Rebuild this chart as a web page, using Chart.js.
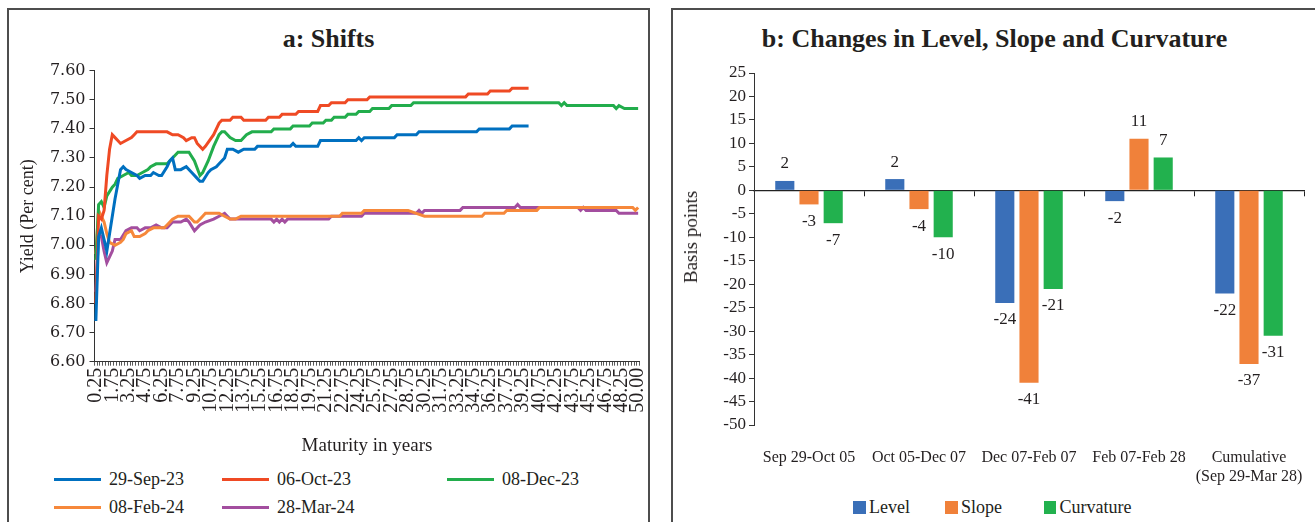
<!DOCTYPE html>
<html>
<head>
<meta charset="utf-8">
<script src="https://cdn.jsdelivr.net/npm/chart.js@4.4.1/dist/chart.umd.min.js"></script>
<style>
  body { margin: 0; width: 1315px; height: 522px; overflow: hidden; background: #fff; position: relative;
         font-family: 'Liberation Serif', serif; color: #231f20; }
  .panel { position: absolute; border: 2px solid #4d4d4d; box-sizing: border-box; }
  .title { position: absolute; font-weight: bold; font-size: 26px; line-height: 30px; text-align: center; }
  canvas { position: absolute; }
  .leg { position: absolute; font-size: 18px; line-height: 20px; white-space: nowrap; }
  .leg i { position: absolute; display: block; }
  .ytitle { position: absolute; font-size: 19px; line-height: 20px; white-space: nowrap; transform: translate(-50%, -50%) rotate(-90deg); }
</style>
</head>
<body>
<div class="panel" style="left:7px; top:8px; width:643px; height:530px;"></div>
<div class="panel" style="left:671px; top:8px; width:650px; height:530px;"></div>
<div class="title" style="left:7px; top:24px; width:643px;">a: Shifts</div>
<div class="title" style="left:671px; top:24px; width:647px;">b: Changes in Level, Slope and Curvature</div>

<canvas id="shiftsChart" width="655" height="460" style="left:0; top:0;"></canvas>
<canvas id="changesChart" width="643" height="490" style="left:672px; top:0;"></canvas>
<div class="ytitle" style="left:691px; top:237px;">Basis points</div>
<div id="legendA"></div>
<div id="legendB"></div>

<script>
// Panel a: maturities on the x axis (0.25 year steps, last one 50.00)
const maturities = [];
for (let m = 0.25; m <= 49.5; m += 0.25) maturities.push(m.toFixed(2));
maturities.push('50.00');

// Yield curves: [maturity, yield]
const curveSep29 = [[0.25,6.74],[0.5,7.03],[0.75,7.06],[1,7.02],[1.25,6.98],[1.5,7.04],[2,7.16],[2.5,7.26],[2.75,7.27],
  [3,7.26],[3.5,7.25],[4,7.24],[4.25,7.23],[4.75,7.24],[5.25,7.24],[5.5,7.25],[6,7.24],[6.25,7.24],[6.75,7.27],[7,7.29],
  [7.25,7.30],[7.5,7.26],[8,7.26],[8.5,7.27],[9,7.25],[9.5,7.23],[9.75,7.22],[10,7.22],[10.5,7.25],[10.75,7.26],[11.25,7.27],
  [11.5,7.28],[12,7.30],[12.25,7.33],[12.75,7.33],[13.25,7.32],[13.75,7.33],[14.75,7.33],[15,7.34],[18,7.34],[18.25,7.35],
  [18.5,7.34],[20.5,7.34],[20.75,7.36],[24,7.36],[24.25,7.37],[24.5,7.36],[24.75,7.37],[27.5,7.37],[27.75,7.38],[29.5,7.38],
  [29.75,7.39],[35,7.39],[35.25,7.40],[38,7.40],[38.25,7.41],[39.75,7.41]];
const curveOct06 = [[0.25,6.80],[0.5,7.10],[0.75,7.09],[1,7.12],[1.25,7.24],[1.5,7.33],[1.75,7.38],[2,7.37],[2.25,7.36],
  [2.5,7.35],[3,7.36],[3.5,7.37],[3.75,7.38],[4,7.39],[6.75,7.39],[7.25,7.38],[7.75,7.38],[8.25,7.37],[8.5,7.36],[9,7.37],
  [9.25,7.37],[9.5,7.35],[10,7.33],[10.25,7.34],[11,7.38],[11.5,7.42],[11.75,7.43],[12.5,7.43],[12.75,7.44],[13.5,7.44],
  [13.75,7.43],[15.75,7.43],[16,7.44],[17,7.44],[17.25,7.45],[18.5,7.45],[18.75,7.46],[20.5,7.46],[20.75,7.48],[21.5,7.48],
  [21.75,7.49],[23,7.49],[23.25,7.50],[25,7.50],[25.25,7.51],[34,7.51],[34.25,7.52],[36,7.52],[36.25,7.53],[38,7.53],
  [38.25,7.54],[39.75,7.54]];
const curveDec08 = [[0.25,6.95],[0.5,7.14],[0.75,7.15],[1,7.13],[1.25,7.17],[1.75,7.20],[2,7.21],[2.25,7.23],[2.75,7.24],
  [3.25,7.25],[3.5,7.24],[4,7.24],[4.5,7.25],[5,7.26],[5.25,7.27],[5.75,7.28],[6.75,7.28],[7.25,7.30],[7.75,7.32],[8.75,7.32],
  [9.25,7.29],[9.75,7.24],[10,7.25],[10.5,7.29],[11,7.34],[11.5,7.38],[11.75,7.39],[12,7.39],[12.5,7.37],[13,7.36],[13.5,7.36],
  [14,7.38],[14.5,7.39],[16.25,7.39],[16.5,7.40],[18,7.40],[18.25,7.41],[19.75,7.41],[20,7.42],[21,7.42],[21.25,7.43],
  [21.75,7.43],[22,7.44],[23,7.44],[23.25,7.45],[24,7.45],[24.25,7.46],[25.25,7.46],[25.5,7.47],[27,7.47],[27.25,7.48],
  [29,7.48],[29.25,7.49],[42.5,7.49],[42.75,7.48],[43,7.49],[43.25,7.48],[47.5,7.48],[47.75,7.47],[48,7.48],[48.5,7.47],[50,7.47]];
const curveFeb08 = [[0.25,6.97],[0.5,7.12],[0.75,7.10],[1,7.08],[1.25,7.04],[1.5,7.01],[2,7.00],[2.5,7.01],[2.75,7.02],
  [3,7.04],[3.5,7.05],[3.75,7.03],[4.25,7.03],[4.75,7.04],[5,7.05],[5.5,7.06],[6.5,7.06],[6.75,7.07],[7.25,7.09],[7.75,7.10],
  [8.75,7.10],[9.25,7.08],[9.5,7.08],[10,7.10],[10.25,7.11],[11.5,7.11],[12,7.10],[12.5,7.09],[13,7.09],[13.5,7.10],
  [22.5,7.10],[22.75,7.11],[24.5,7.11],[24.75,7.12],[28.75,7.12],[29.5,7.11],[30.25,7.10],[35.5,7.10],[35.75,7.11],
  [37.5,7.11],[37.75,7.12],[40.5,7.12],[40.75,7.13],[49.25,7.13],[49.5,7.12],[50,7.13]];
const curveMar28 = [[0.25,6.84],[0.5,7.04],[0.75,7.03],[1,6.98],[1.25,6.94],[1.5,6.96],[1.75,6.98],[2,7.02],[2.5,7.02],
  [3,7.05],[3.5,7.06],[4,7.06],[4.25,7.05],[4.75,7.06],[5.25,7.06],[5.75,7.07],[6.25,7.06],[6.75,7.06],[7.25,7.08],[8,7.08],
  [8.5,7.09],[8.75,7.08],[9.25,7.05],[9.75,7.07],[10.25,7.08],[11,7.09],[11.5,7.10],[12,7.11],[12.25,7.10],[12.5,7.09],
  [16.25,7.09],[16.5,7.08],[16.75,7.09],[17,7.08],[17.25,7.09],[17.5,7.08],[17.75,7.09],[21.5,7.09],[21.75,7.10],[24.5,7.10],
  [24.75,7.11],[29.5,7.11],[29.75,7.12],[30,7.11],[30.25,7.12],[33.5,7.12],[33.75,7.13],[38.5,7.13],[38.75,7.14],[39,7.13],
  [44.25,7.13],[44.5,7.12],[44.75,7.13],[45,7.12],[47.75,7.12],[48,7.11],[50,7.11]];

const curveNames = ['29-Sep-23', '06-Oct-23', '08-Dec-23', '08-Feb-24', '28-Mar-24'];
const curveColors = ['#0070c0', '#ef4a24', '#22ad4c', '#f6883b', '#a34e9f'];
const curves = [curveSep29, curveOct06, curveDec08, curveFeb08, curveMar28];
const yieldTicks = [6.6, 7.6, 0.1]; // min, max, step

// Panel b: changes in basis points
const periods = ['Sep 29-Oct 05', 'Oct 05-Dec 07', 'Dec 07-Feb 07', 'Feb 07-Feb 28', ['Cumulative', '(Sep 29-Mar 28)']];
const levelChg = [2, 2.4, -24, -2.3, -22];
const slopeChg = [-3, -4, -41, 11, -37];
const curvatureChg = [-7, -10, -21, 7, -31];
const factorNames = ['Level', 'Slope', 'Curvature'];
const factorColors = ['#3a6fb8', '#f0813a', '#22b14e'];

const FONT = "'Liberation Serif', serif";
const INK = '#231f20';

// keep the plot area where it is: labels may hang past the ends
const noSidePadding = s => { s.paddingLeft = 0; s.paddingRight = 0; };

// ---------- panel a ----------
new Chart(document.getElementById('shiftsChart'), {
    type: 'line',
    data: {
        datasets: curves.map((c, i) => ({
            label: curveNames[i],
            data: c.map(([m, y]) => ({ x: m.toFixed(2), y: y })),
            borderColor: curveColors[i],
            backgroundColor: curveColors[i],
        }))
    },
    options: {
        responsive: false,
        animation: false,
        layout: { padding: { top: 70.7, right: 15.5, left: 10, bottom: 0 } },
        elements: { point: { radius: 0 }, line: { borderWidth: 3, tension: 0 } },
        plugins: { legend: { display: false }, tooltip: { enabled: false } },
        scales: {
            x: {
                type: 'category',
                labels: maturities,
                offset: true,
                grid: { offset: true, drawOnChartArea: false, tickLength: 4, color: '#5a5a5a' },
                border: { color: '#333' },
                ticks: {
                    autoSkip: false, minRotation: 90, maxRotation: 90, padding: 2,
                    font: { family: FONT, size: 20 }, color: INK,
                    callback: (v, i) => (i % 6 === 0 ? maturities[i] : '')
                },
                title: { display: true, text: 'Maturity in years', color: INK,
                         font: { family: FONT, size: 19 }, padding: { bottom: 3 } },
                afterFit: s => { s.height = 98.3; noSidePadding(s); }
            },
            y: {
                min: yieldTicks[0], max: yieldTicks[1],
                ticks: { stepSize: yieldTicks[2], callback: v => v.toFixed(2), padding: 4,
                         font: { family: "'DejaVu Serif', serif", size: 16 }, color: INK },
                grid: { drawOnChartArea: false, tickLength: 5, color: '#333' },
                border: { color: '#333' },
                title: { display: true, text: 'Yield (Per cent)', color: INK,
                         font: { family: FONT, size: 18 }, padding: { top: 7 } },
                afterFit: s => { s.width = 84.5; }
            }
        }
    }
});

// legend a (laid out like the original: three then two)
const legendSlotsA = [[54, 479], [222, 479], [447, 479], [54, 507], [222, 507]];
document.getElementById('legendA').innerHTML = curveNames.map((n, i) =>
    `<div class="leg" style="left:${legendSlotsA[i][0]}px; top:${legendSlotsA[i][1] - 10}px;">` +
    `<i style="left:0; top:8.5px; width:47px; height:3px; background:${curveColors[i]};"></i>` +
    `<span style="margin-left:55px;">${n}</span></div>`).join('');

// ---------- panel b ----------
const dataLabelPlugin = {
    id: 'dataLabelPlugin',
    afterDatasetsDraw(chart) {
        const ctx = chart.ctx;
        chart.data.datasets.forEach((dataset, di) => {
            const meta = chart.getDatasetMeta(di);
            meta.data.forEach((bar, i) => {
                const v = dataset.data[i];
                ctx.save();
                ctx.font = `17px ${FONT}`;
                ctx.fillStyle = INK;
                ctx.textAlign = 'center';
                ctx.textBaseline = 'middle';
                const y = v >= 0 ? bar.y - 17 : bar.y + 17;
                ctx.fillText(String(Math.round(v)), bar.x, y);
                ctx.restore();
            });
        });
    }
};

new Chart(document.getElementById('changesChart'), {
    type: 'bar',
    data: {
        labels: periods,
        datasets: [levelChg, slopeChg, curvatureChg].map((d, i) => ({
            label: factorNames[i],
            data: d,
            backgroundColor: factorColors[i],
            categoryPercentage: 0.66,
            barPercentage: 0.79
        }))
    },
    options: {
        responsive: false,
        animation: false,
        layout: { padding: { top: 73, right: 11, left: 30, bottom: 0 } },
        plugins: { legend: { display: false }, tooltip: { enabled: false } },
        scales: {
            x: {
                type: 'category',
                position: { y: 0 },
                offset: true,
                grid: { offset: true, drawOnChartArea: false, tickLength: 5, color: '#222' },
                border: { color: '#222', width: 1.3 },
                ticks: { display: false }
            },
            x2: {
                type: 'category',
                labels: periods,
                position: 'bottom',
                offset: true,
                grid: { display: false, drawTicks: false },
                border: { display: false },
                ticks: { autoSkip: false, minRotation: 0, maxRotation: 0, padding: 23,
                         font: { family: FONT, size: 16 }, color: INK },
                afterFit: s => { s.height = 65; noSidePadding(s); }
            },
            y: {
                min: -50, max: 25,
                ticks: { stepSize: 5, padding: 3, font: { family: FONT, size: 17 }, color: INK },
                grid: { drawOnChartArea: false, tickLength: 5, color: '#333' },
                border: { color: '#333' },
                afterFit: s => { s.width = 52; }
            }
        }
    },
    plugins: [dataLabelPlugin]
});

// legend b
const legendSlotsB = [853, 945, 1043.5];
document.getElementById('legendB').innerHTML = factorNames.map((n, i) =>
    `<div class="leg" style="left:${legendSlotsB[i]}px; top:497px;">` +
    `<i style="left:0; top:4px; width:12.5px; height:12.5px; background:${factorColors[i]};"></i>` +
    `<span style="margin-left:16px;">${n}</span></div>`).join('');
</script>
</body>
</html>
